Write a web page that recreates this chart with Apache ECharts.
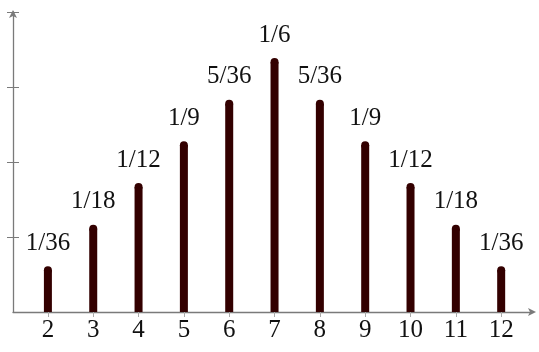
<!DOCTYPE html>
<html><head><meta charset="utf-8">
<script src="https://cdn.jsdelivr.net/npm/echarts@6/dist/echarts.min.js"></script>
<style>html,body{margin:0;padding:0;background:#fff}#c{width:539px;height:352px}</style>
</head><body><div id="c"></div>
<script>
const sums = [2,3,4,5,6,7,8,9,10,11,12];
const probs = [1/36,2/36,3/36,4/36,5/36,6/36,5/36,4/36,3/36,2/36,1/36];
const probLabels = ['1/36','1/18','1/12','1/9','5/36','1/6','5/36','1/9','1/12','1/18','1/36'];
const yTicks = [0.05,0.10,0.15,0.20];

const font = '25px "Liberation Serif", serif';
const axisColor = '#7a7a7a';
const chart = echarts.init(document.getElementById('c'));
chart.setOption({
  animation:false,
  grid:{left:13,right:7,top:12,bottom:40},
  xAxis:{type:'value',min:1.23,max:12.68,
    axisLine:{show:true,lineStyle:{color:axisColor,width:1.3},symbol:['none','arrow'],symbolSize:[6,8],symbolOffset:[0,4]},
    axisTick:{show:true,length:5,lineStyle:{color:'#aaa'},customValues:sums},
    axisLabel:{customValues:sums,fontFamily:'Liberation Serif',fontSize:25,color:'#111',margin:6},
    splitLine:{show:false}},
  yAxis:[{type:'value',min:0,max:0.2,
    axisLine:{show:true,lineStyle:{color:axisColor,width:1.3},symbol:['none','arrow'],symbolSize:[6,8],symbolOffset:[0,2]},
    axisTick:{show:true,length:6,lineStyle:{color:axisColor},customValues:yTicks},
    axisLabel:{show:false},splitLine:{show:false}},
    {type:'value',min:0,max:0.2,position:'left',
    axisLine:{show:false,onZero:false},
    axisTick:{show:true,inside:true,length:6,lineStyle:{color:axisColor},customValues:yTicks},
    axisLabel:{show:false},splitLine:{show:false}}],
  series:[{type:'custom',
    data:sums.map((s,i)=>[s,probs[i],i]),
    renderItem:function(params,api){
      const x=api.value(0), y=api.value(1), i=api.value(2);
      const top=api.coord([x,y]), bot=api.coord([x,0]);
      const r=4;
      return {type:'group',children:[
        {type:'rect',shape:{x:top[0]-r,y:top[1],width:2*r,height:bot[1]-top[1]},style:{fill:'#330000'}},
        {type:'circle',shape:{cx:top[0],cy:top[1],r:r},style:{fill:'#330000'}},
        {type:'text',x:top[0],y:top[1]-27,style:{text:probLabels[i],font:font,fill:'#111',align:'center',verticalAlign:'middle'}}
      ]};
    }}]
});
</script></body></html>
